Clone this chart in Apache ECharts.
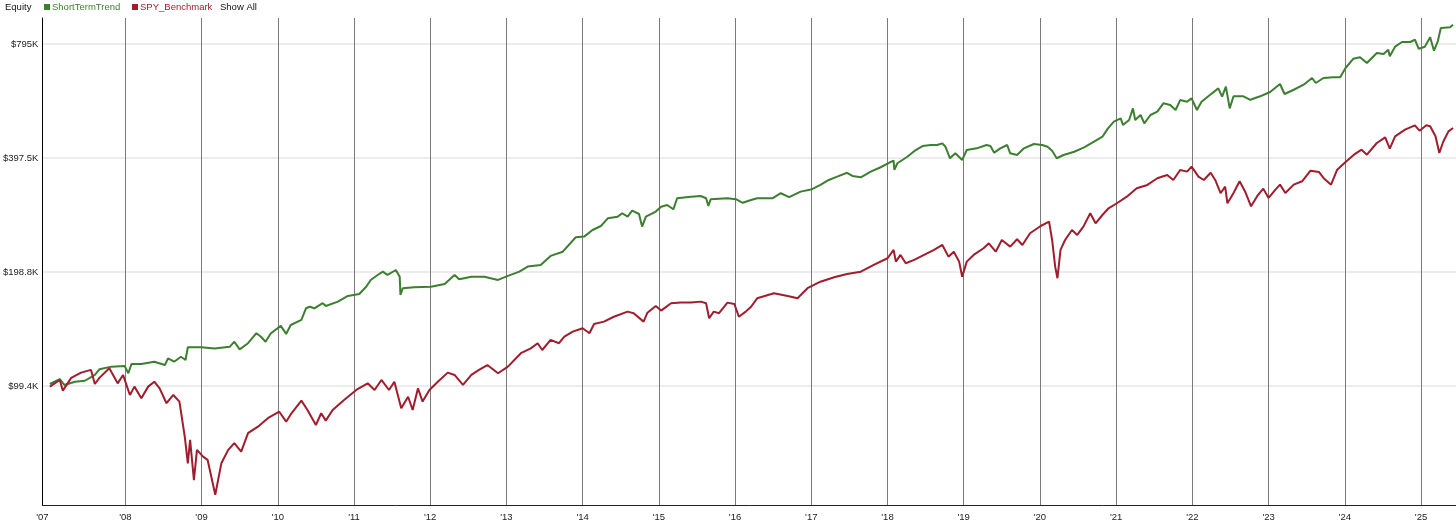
<!DOCTYPE html>
<html><head><meta charset="utf-8">
<script src="https://cdn.jsdelivr.net/npm/echarts@6/dist/echarts.min.js"></script>
<style>html,body{margin:0;padding:0;background:#fff}#chart{width:1456px;height:530px}</style>
</head><body><div id="chart"></div>
<script>
// ---- DATA (decimal year, equity in $K) ----
const seriesNames = ['ShortTermTrend', 'SPY_Benchmark'];

const shortTermTrend = [
[2007.01,100.6],[2007.14,103.6],[2007.20,100.0],[2007.34,102.0],[2007.47,102.6],[2007.60,106.3],[2007.66,110.0],[2007.82,111.8],[2007.99,112.3],[2008.04,107.4],
[2008.08,113.6],[2008.21,113.6],[2008.38,115.2],[2008.52,112.9],[2008.56,117.6],[2008.64,115.2],[2008.73,118.7],[2008.79,116.4],[2008.82,125.8],[2009.00,125.8],
[2009.17,124.9],[2009.37,126.1],[2009.43,130.1],[2009.50,124.2],[2009.61,128.9],[2009.72,137.0],[2009.78,134.1],[2009.84,130.1],[2009.91,137.0],[2010.04,143.2],
[2010.11,136.4],[2010.17,144.0],[2010.31,148.5],[2010.37,159.4],[2010.42,160.9],[2010.48,159.4],[2010.59,164.4],[2010.63,161.7],[2010.79,166.0],[2010.92,171.8],
[2011.07,173.9],[2011.16,181.7],[2011.22,189.4],[2011.31,195.2],[2011.38,199.2],[2011.44,195.2],[2011.55,201.2],[2011.60,193.1],[2011.61,172.9],[2011.64,180.1],
[2011.79,181.2],[2012.01,181.7],[2012.19,184.8],[2012.32,195.2],[2012.38,190.2],[2012.54,193.1],[2012.71,193.1],[2012.89,189.4],[2013.02,194.1],[2013.17,199.2],
[2013.28,205.4],[2013.45,207.5],[2013.58,219.2],[2013.74,224.9],[2013.91,245.5],[2014.02,246.5],[2014.13,256.6],[2014.24,262.9],[2014.33,275.5],[2014.46,278.3],
[2014.52,284.1],[2014.59,278.3],[2014.65,288.6],[2014.74,282.8],[2014.78,261.9],[2014.83,278.3],[2014.96,287.1],[2015.03,295.7],[2015.11,298.8],[2015.19,291.0],
[2015.24,311.2],[2015.42,314.3],[2015.55,315.6],[2015.62,311.2],[2015.65,297.0],[2015.68,309.4],[2015.90,311.2],[2016.01,309.4],[2016.10,302.8],[2016.21,308.0],
[2016.29,311.2],[2016.49,311.2],[2016.60,320.9],[2016.71,313.2],[2016.86,324.0],[2017.01,328.8],[2017.12,337.5],[2017.23,347.8],[2017.34,354.9],[2017.47,363.4],
[2017.54,356.4],[2017.65,353.6],[2017.78,365.9],[2017.91,375.8],[2018.02,386.2],[2018.08,391.2],[2018.09,369.7],[2018.13,385.1],[2018.26,400.6],[2018.37,417.3],
[2018.46,427.6],[2018.57,430.2],[2018.65,430.2],[2018.72,434.6],[2018.76,425.8],[2018.82,396.9],[2018.89,409.0],[2018.98,392.9],[2019.04,417.3],[2019.17,421.6],
[2019.30,430.2],[2019.35,427.6],[2019.40,410.6],[2019.48,421.6],[2019.57,430.2],[2019.61,409.0],[2019.70,404.8],[2019.79,421.6],[2019.92,432.8],[2020.03,430.2],
[2020.10,425.8],[2020.16,415.6],[2020.22,396.9],[2020.31,404.8],[2020.45,413.0],[2020.58,424.2],[2020.71,439.0],[2020.82,452.5],[2020.89,475.3],[2020.97,495.7],
[2021.06,505.8],[2021.09,485.8],[2021.17,500.8],[2021.22,537.7],[2021.25,500.8],[2021.32,516.4],[2021.37,490.9],[2021.45,516.4],[2021.54,526.8],[2021.62,554.4],
[2021.71,548.7],[2021.78,532.3],[2021.84,565.4],[2021.93,559.8],[2021.99,571.3],[2022.06,532.3],[2022.12,559.8],[2022.23,583.1],[2022.34,607.1],[2022.39,577.1],
[2022.44,613.3],[2022.49,537.7],[2022.54,578.5],[2022.67,578.5],[2022.76,566.4],[2022.89,578.5],[2023.02,593.8],[2023.15,623.4],[2023.21,586.6],[2023.33,602.0],
[2023.46,620.8],[2023.57,646.6],[2023.62,627.2],[2023.72,646.6],[2023.85,649.4],[2023.94,649.4],[2024.01,687.1],[2024.11,726.6],[2024.20,733.3],[2024.29,708.3],
[2024.42,752.8],[2024.51,748.2],[2024.57,767.8],[2024.59,737.8],[2024.66,782.2],[2024.75,804.8],[2024.86,804.8],[2024.92,816.1],[2024.97,772.2],[2025.05,782.2],
[2025.12,828.0],[2025.17,763.4],[2025.22,808.1],[2025.26,876.2],[2025.38,879.9],[2025.42,893.4]
];

const spyBenchmark = [
[2007.01,99.0],[2007.14,103.1],[2007.18,96.6],[2007.29,104.4],[2007.42,107.8],[2007.55,109.6],[2007.60,100.6],[2007.66,104.4],[2007.79,110.7],[2007.90,101.0],
[2007.97,106.3],[2008.06,94.1],[2008.12,99.0],[2008.21,92.2],[2008.30,99.0],[2008.38,102.0],[2008.45,98.0],[2008.54,89.5],[2008.63,94.1],[2008.71,90.4],
[2008.78,73.0],[2008.82,62.1],[2008.85,71.6],[2008.90,56.1],[2008.94,67.4],[2009.02,64.7],[2009.08,63.4],[2009.18,51.3],[2009.26,62.1],[2009.35,67.4],
[2009.43,70.2],[2009.52,66.7],[2009.61,74.6],[2009.74,77.6],[2009.87,81.7],[2010.02,85.0],[2010.11,80.0],[2010.18,84.2],[2010.31,90.9],[2010.39,85.9],
[2010.50,78.4],[2010.57,84.2],[2010.63,80.5],[2010.72,85.9],[2010.87,91.3],[2011.03,97.0],[2011.18,101.0],[2011.27,97.0],[2011.36,103.1],[2011.46,97.0],
[2011.53,102.0],[2011.62,86.8],[2011.71,93.1],[2011.77,85.9],[2011.84,98.0],[2011.90,90.4],[2011.99,97.0],[2012.10,102.0],[2012.23,107.8],[2012.32,106.3],
[2012.43,100.0],[2012.54,106.3],[2012.64,109.6],[2012.75,112.9],[2012.89,107.4],[2013.02,111.8],[2013.19,121.3],[2013.32,124.9],[2013.41,128.9],[2013.47,123.7],
[2013.58,131.5],[2013.69,128.9],[2013.76,134.1],[2013.87,138.3],[2014.00,141.2],[2014.09,137.0],[2014.15,144.9],[2014.28,147.0],[2014.41,151.4],[2014.59,156.2],
[2014.67,154.7],[2014.80,147.0],[2014.85,155.2],[2014.96,161.7],[2015.03,157.2],[2015.16,164.4],[2015.29,165.0],[2015.42,165.0],[2015.55,166.0],[2015.62,164.4],
[2015.66,150.0],[2015.72,156.2],[2015.79,154.7],[2015.90,165.0],[2015.99,163.7],[2016.05,151.4],[2016.14,156.2],[2016.21,160.9],[2016.29,169.4],[2016.51,174.7],
[2016.69,171.8],[2016.82,169.4],[2016.95,180.1],[2017.12,187.4],[2017.30,192.6],[2017.47,196.4],[2017.65,199.2],[2017.82,207.5],[2018.00,216.1],[2018.08,227.3],
[2018.11,211.7],[2018.17,220.5],[2018.24,209.6],[2018.35,213.9],[2018.48,220.5],[2018.61,227.3],[2018.72,234.3],[2018.80,218.2],[2018.87,224.9],[2018.94,211.7],
[2018.98,193.1],[2019.04,211.7],[2019.13,220.5],[2019.26,229.6],[2019.33,236.7],[2019.42,224.9],[2019.50,241.5],[2019.61,231.9],[2019.70,242.5],[2019.77,234.3],
[2019.87,251.6],[2020.01,262.9],[2020.12,269.9],[2020.16,241.5],[2020.20,205.4],[2020.23,191.4],[2020.27,227.3],[2020.33,241.5],[2020.42,256.6],[2020.49,249.0],
[2020.57,261.9],[2020.66,284.1],[2020.73,267.3],[2020.82,281.1],[2020.90,292.8],[2021.01,301.9],[2021.14,314.3],[2021.27,330.8],[2021.41,337.5],[2021.54,351.4],
[2021.67,358.6],[2021.75,347.8],[2021.84,369.7],[2021.93,365.9],[2021.99,377.3],[2022.08,354.9],[2022.15,347.8],[2022.24,363.4],[2022.30,347.8],[2022.37,320.9],
[2022.43,334.1],[2022.46,301.9],[2022.50,311.2],[2022.54,321.2],[2022.62,345.1],[2022.69,324.8],[2022.77,296.4],[2022.85,315.1],[2022.93,330.0],[2023.00,311.8],
[2023.09,328.0],[2023.15,338.1],[2023.22,321.2],[2023.33,338.1],[2023.44,345.1],[2023.55,368.1],[2023.66,365.2],[2023.72,352.1],[2023.82,338.1],[2023.90,370.3],
[2024.01,388.1],[2024.12,405.6],[2024.22,418.1],[2024.29,405.6],[2024.42,435.5],[2024.53,450.8],[2024.59,420.6],[2024.66,453.6],[2024.79,472.6],[2024.92,484.9],
[2024.98,469.3],[2025.07,484.9],[2025.12,482.0],[2025.19,453.6],[2025.24,409.8],[2025.29,438.1],[2025.36,467.5],[2025.42,477.0]
];

const xTickValues = [2006.912, 2008, 2009, 2010, 2011, 2012, 2013, 2014, 2015, 2016, 2017, 2018, 2019, 2020, 2021, 2022, 2023, 2024, 2025];
const xTickLabels = ["'07", "'08", "'09", "'10", "'11", "'12", "'13", "'14", "'15", "'16", "'17", "'18", "'19", "'20", "'21", "'22", "'23", "'24", "'25"];
const xRange = [2006.912, 2025.459];

const yTickValues = [99.4, 198.8, 397.5, 795];
const yTickLabels = ['$99.4K', '$198.8K', '$397.5K', '$795K'];
const yRange = [48.2, 931.3];

// ---- CHART ----
const FONT = 'Arial, "Liberation Sans", sans-serif';
const GREEN = '#3d7e31';
const RED = '#a01d2e';
const lg = Math.log2;

function nearestIndex(arr, v) {
  let best = 0, bd = Infinity;
  arr.forEach((a, i) => { const d = Math.abs(a - v); if (d < bd) { bd = d; best = i; } });
  return best;
}
const yTickLog = yTickValues.map(lg);
const toLog = arr => arr.map(p => [p[0], lg(p[1])]);

const chart = echarts.init(document.getElementById('chart'), null, { renderer: 'canvas' });
chart.setOption({
  animation: false,
  backgroundColor: '#fff',
  grid: { left: 41, right: 0, top: 18, bottom: 25 },
  xAxis: {
    type: 'value',
    min: xRange[0], max: xRange[1],
    axisLine: { show: true, onZero: false, lineStyle: { color: '#222', width: 1 } },
    axisTick: { show: false, customValues: xTickValues },
    axisLabel: {
      customValues: xTickValues,
      margin: 7,
      color: '#222', fontSize: 9.5, fontFamily: FONT,
      formatter: v => xTickLabels[nearestIndex(xTickValues, v)]
    },
    splitLine: { show: true, lineStyle: { color: '#7a7a7a', width: 1 } }
  },
  yAxis: {
    type: 'value',
    min: lg(yRange[0]), max: lg(yRange[1]),
    axisLine: { show: true, lineStyle: { color: '#000', width: 1 } },
    axisTick: { show: false, customValues: yTickLog },
    axisLabel: {
      customValues: yTickLog,
      margin: 4,
      color: '#222', fontSize: 9.5, fontFamily: FONT,
      formatter: v => yTickLabels[nearestIndex(yTickLog, v)]
    },
    splitLine: { show: true, lineStyle: { color: '#e6e6e6', width: 1.5 } }
  },
  series: [
    {
      name: seriesNames[0], type: 'line', data: toLog(shortTermTrend),
      showSymbol: false, symbol: 'none', z: 3,
      lineStyle: { color: GREEN, width: 2 }, itemStyle: { color: GREEN }
    },
    {
      name: seriesNames[1], type: 'line', data: toLog(spyBenchmark),
      showSymbol: false, symbol: 'none', z: 3,
      lineStyle: { color: RED, width: 2 }, itemStyle: { color: RED }
    }
  ],
  graphic: [
    { type: 'text', left: 5, top: 2, style: { text: 'Equity', fill: '#111', fontSize: 9.5, fontFamily: FONT } },
    { type: 'rect', left: 44, top: 4, shape: { width: 6, height: 6 }, style: { fill: GREEN } },
    { type: 'text', left: 52, top: 2, style: { text: seriesNames[0], fill: GREEN, fontSize: 9.5, fontFamily: FONT } },
    { type: 'rect', left: 132, top: 4, shape: { width: 6, height: 6 }, style: { fill: RED } },
    { type: 'text', left: 140, top: 2, style: { text: seriesNames[1], fill: RED, fontSize: 9.5, fontFamily: FONT } },
    { type: 'text', left: 220, top: 2, style: { text: 'Show All', fill: '#111', fontSize: 9.5, fontFamily: FONT } }
  ]
});
</script>
</body></html>
